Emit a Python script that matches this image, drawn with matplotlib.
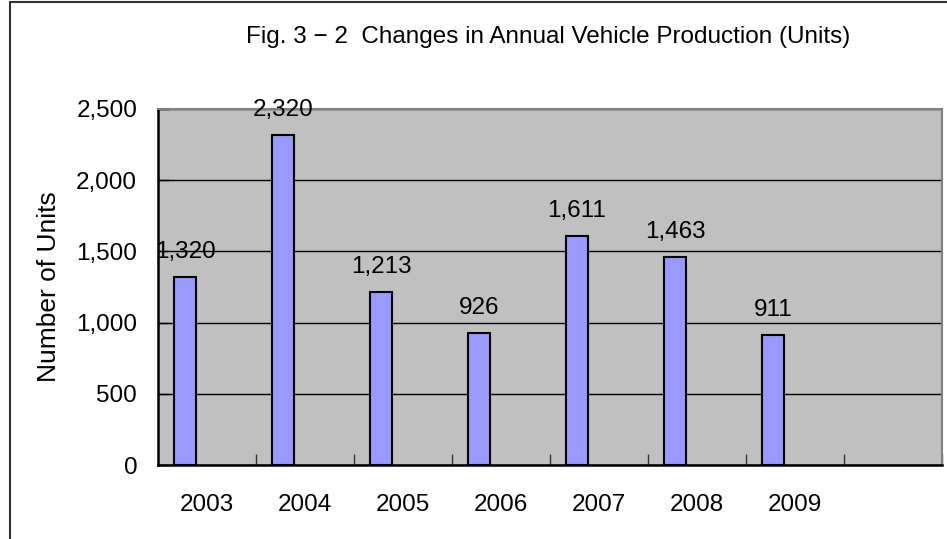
import matplotlib
matplotlib.use("Agg")
import matplotlib.pyplot as plt
from matplotlib.lines import Line2D

# data
years = ["2003", "2004", "2005", "2006", "2007", "2008", "2009"]
units = [1320, 2320, 1213, 926, 1611, 1463, 911]
n_slots = 8  # the chart keeps one empty category at the end

W, H = 947, 539
plt.rcParams['font.family'] = ['Liberation Sans', 'DejaVu Sans']
FS = 17.5

fig = plt.figure(figsize=(W / 100, H / 100), dpi=100)

# plot area in pixels
left, right, top, bottom = 158, 942, 109, 465
ax = fig.add_axes([left / W, 1 - bottom / H, (right - left) / W, (bottom - top) / H])
ax.set_facecolor('#C0C0C0')

xs = [i + 0.5 - 0.224 for i in range(len(years))]
bars = ax.bar(xs, units, width=0.224, color='#9999FF', edgecolor='black', linewidth=1.5, zorder=3)

for x, v in zip(xs, units):
    ax.annotate(f"{v:,}", (x, v), xytext=(0, 10), textcoords='offset points',
                ha='center', va='bottom', fontsize=FS, zorder=4)

ax.set_xlim(0, n_slots)
ax.set_ylim(0, 2500)
ax.set_yticks(range(0, 2501, 500))
ax.set_yticklabels([f"{v:,}" for v in range(0, 2501, 500)], fontsize=FS)
ax.yaxis.grid(True, color='black', linewidth=1, zorder=1)
ax.tick_params(axis='y', direction='in', length=8, width=1, pad=15)

ax.set_xticks([i + 0.5 for i in range(len(years))])
ax.set_xticklabels(years, fontsize=FS)
ax.set_xticks(range(1, n_slots + 1), minor=True)
ax.tick_params(axis='x', which='major', length=0, pad=21)
ax.tick_params(axis='x', which='minor', direction='in', length=8, width=1, color='#333333')

for s in ['top', 'right']:
    ax.spines[s].set_color('#808080')
    ax.spines[s].set_linewidth(1.5)
for s in ['left', 'bottom']:
    ax.spines[s].set_color('black')
    ax.spines[s].set_linewidth(1.8)

fig.text(548 / W, 1 - 37 / H, "Fig. 3 \u2212 2  Changes in Annual Vehicle Production (Units)",
         ha='center', va='center', fontsize=17.5)
fig.text(49 / W, 1 - 287 / H, "Number of Units", rotation=90,
         ha='center', va='center', fontsize=19)

# outer chart border (cropped on the right and bottom)
fig.add_artist(Line2D([9.5 / W, 9.5 / W], [0, 1 - 2 / H], transform=fig.transFigure,
                      color='#333333', linewidth=1.5))
fig.add_artist(Line2D([9.5 / W, 1], [1 - 2 / H, 1 - 2 / H], transform=fig.transFigure,
                      color='#333333', linewidth=1.5))

fig.savefig("out.png", dpi=100)
